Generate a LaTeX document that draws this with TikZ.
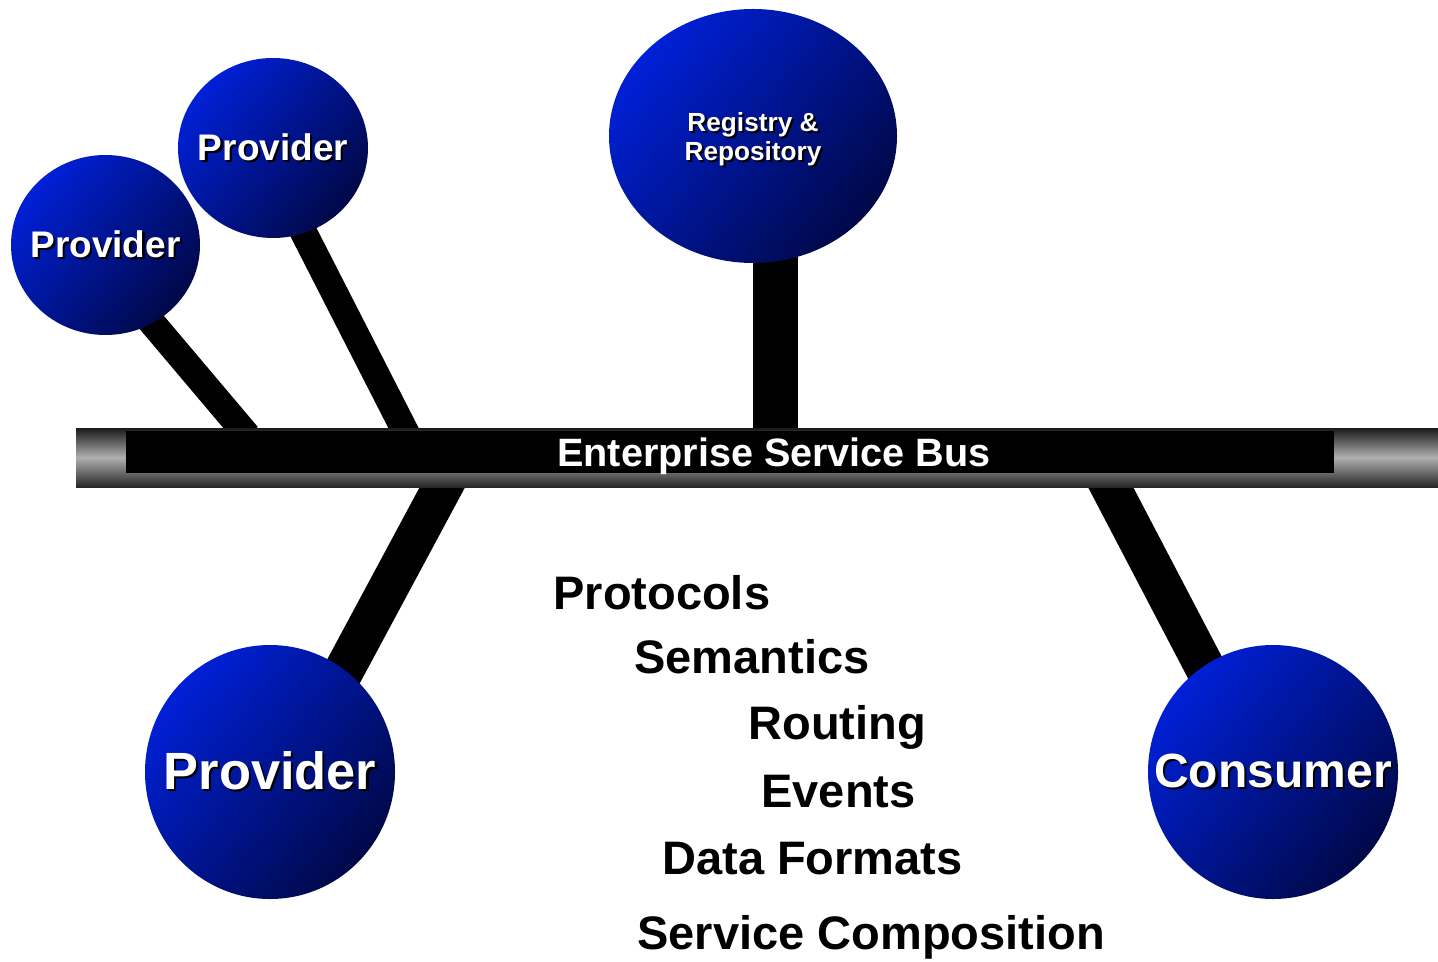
\documentclass[tikz,border=0pt]{standalone}
\usepackage{fontspec}
\setmainfont{Liberation Sans}
\usetikzlibrary{shapes.geometric,backgrounds}

\definecolor{ballhi}{RGB}{0,32,215}
\definecolor{balllo}{RGB}{0,8,72}
% white label with a small black drop shadow, zero width so it does not size the ball
\newcommand{\shtext}[1]{\makebox[0pt]{\makebox[0pt][l]{\hspace{1.1pt}\raisebox{-1.1pt}{\color{black}#1}}#1}}

\begin{document}
\begin{tikzpicture}[x=.5pt,y=-.5pt,
    ball/.style={ellipse,inner sep=0pt,top color=ballhi,bottom color=balllo,
      shading angle=50,text=white,align=center},
    stemthin/.style={line width=13.5pt},
    stemwide/.style={line width=20pt},
    stemreg/.style={line width=22.5pt},
    item/.style={inner sep=0pt,anchor=base west,font=\bfseries\fontsize{23.5}{26}\selectfont}]

      \useasboundingbox (0,0) rectangle (1438,962);

      % balls
      \node[ball,minimum width=94.5pt,minimum height=90pt,font=\bfseries\fontsize{18.5}{20}\selectfont]
        (prov1) at (105.5,245) {\shtext{Provider}};
      \node[ball,minimum width=95pt,minimum height=90pt,font=\bfseries\fontsize{18.5}{20}\selectfont]
        (prov2) at (273,148) {\shtext{Provider}};
      \node[ball,minimum width=144pt,minimum height=127pt,font=\bfseries\fontsize{13.1}{14.5}\selectfont]
        (reg) at (753,136) {\rule{0pt}{14pt}\shtext{Registry \&}\\\shtext{Repository}};
      \node[ball,minimum width=125pt,minimum height=127pt,font=\bfseries\fontsize{26.2}{28}\selectfont]
        (prov3) at (270,772) {\shtext{Provider}};
      \node[ball,minimum width=125pt,minimum height=127pt,font=\bfseries\fontsize{24}{26}\selectfont]
        (cons) at (1273,772) {\shtext{Consumer}};

      % bus
      \shade[top color=black!90,bottom color=black!85,middle color=black!31] (76,428) rectangle (1438,487);
      \node[fill=black,inner sep=0pt,minimum width=604pt,minimum height=21pt] (bus) at (730,452) {};
      \node[inner sep=0pt,anchor=base,text=white,font=\bfseries\fontsize{19.8}{22}\selectfont]
        (busname) at (774,466) {Enterprise Service Bus};

      \coordinate (bt1) at (241,428);
      \coordinate (bt2) at (403.5,428);
      \coordinate (bt3) at (775.5,428);
      \coordinate (bb1) at (442.5,487);
      \coordinate (bb2) at (1110.5,487);

      % stems
      \begin{pgfonlayer}{background}
        \draw[stemthin,shorten <=-14pt,shorten >=-5pt] (prov1.-59) -- (bt1);
        \draw[stemthin,shorten <=-14pt,shorten >=-5pt] (prov2.-70) -- (bt2);
        \draw[stemreg,shorten >=-5pt] (bt3 |- reg.center) -- (bt3);
        \draw[stemwide,shorten <=-18pt,shorten >=-5pt] (prov3.54) -- (bb1);
        \draw[stemwide,shorten <=-18pt,shorten >=-5pt] (cons.123) -- (bb2);
      \end{pgfonlayer}

      % features
      \foreach \name/\lbl/\x/\y in {proto/Protocols/553/609, sem/Semantics/634/673,
          rout/Routing/748/739, evt/Events/761/807, fmt/Data Formats/662/874,
          comp/Service Composition/637/949} {
        \node[item] (\name) at (\x,\y) {\lbl};
      }

\end{tikzpicture}
\end{document}
